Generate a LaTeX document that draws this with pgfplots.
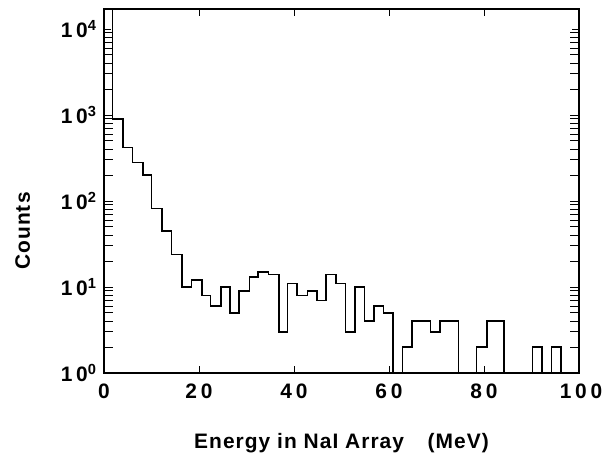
\documentclass[border=0pt]{standalone}
\usepackage{fontspec}
\setmainfont{Liberation Sans}
\newfontfamily\tickf{Liberation Sans Bold}[LetterSpace=18]
\newfontfamily\labf{Liberation Sans Bold}[LetterSpace=5]
\usepackage{pgfplots}
\pgfplotsset{compat=1.18}
\begin{document}
\begin{tikzpicture}
\path[use as bounding box] (-104bp,-83bp) rectangle (499bp,373bp);
\begin{axis}[
  at={(0,0)}, anchor=south west,
  scale only axis, width=475bp, height=364bp,
  ymode=log, xmin=0, xmax=100, ymin=1, ymax=17100,
  xtick={0,20,40,60,80,100},
  xticklabels={0,20,40,60,80,\hspace{4bp}100},
  ytick={1,10,100,1000,10000},
  yticklabels={{10\textsuperscript{0}},{10\textsuperscript{1}},{10\textsuperscript{2}},{10\textsuperscript{3}},{10\textsuperscript{4}}},
  tick align=inside,
  major tick length=7bp, minor tick length=9bp,
  tick style={black, line width=1bp},
  minor tick style={black, line width=1bp},
  axis line style={line width=1.4bp},
  xticklabel style={font=\tickf\fontsize{21}{23}\selectfont, yshift=-7bp},
  yticklabel style={font=\tickf\fontsize{21}{23}\selectfont, xshift=-4bp},
  xlabel={Energy in NaI Array\hspace{0.8em} (MeV)},
  ylabel={Counts},
  xlabel style={font=\labf\fontsize{21}{23}\selectfont, yshift=-28bp},
  ylabel style={font=\labf\fontsize{21}{23}\selectfont, yshift=24bp, xshift=-40bp},
  clip=true,
]
\addplot[const plot, black, line width=1.6bp] coordinates {
(0,1e6)
(1.79,900)
(3.94,420)
(6.04,280)
(8.15,200)
(10.04,82)
(12.21,45)
(14.25,24)
(16.36,10)
(18.46,12)
(20.57,8)
(22.46,6)
(24.57,10)
(26.53,5)
(28.48,9)
(30.59,13)
(32.48,15)
(34.59,14)
(36.84,3)
(38.59,11)
(40.57,8)
(42.8,9)
(44.78,7)
(46.74,14)
(48.78,11)
(50.88,3)
(52.84,10)
(54.8,4)
(56.84,6)
(58.88,5)
(60.78,1)
(62.88,2)
(64.9,4)
(68.7,3)
(70.74,4)
(74.6,1)
(78.46,2)
(80.57,4)
(84.27,1)
(90.25,2)
(92.27,1)
(94.25,2)
(96.15,1)
(100,1)
};
\end{axis}
\end{tikzpicture}
\end{document}
